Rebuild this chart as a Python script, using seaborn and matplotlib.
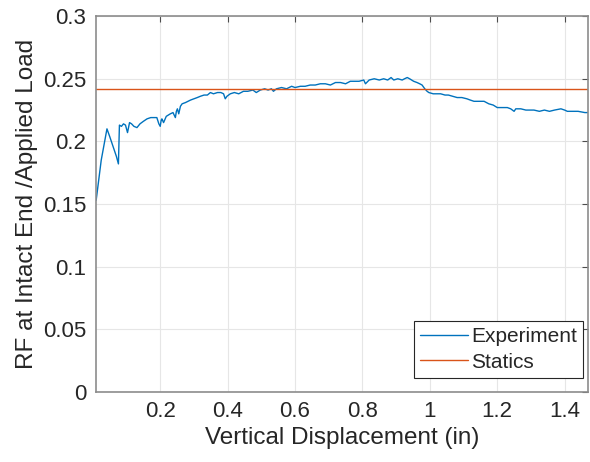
import pandas as pd
import seaborn as sns
import matplotlib
matplotlib.use("Agg")
import matplotlib.pyplot as plt

# data
displacement = [0.010, 0.025, 0.042, 0.050, 0.060, 0.070, 0.076, 0.079, 0.085, 0.091,
                0.097, 0.103, 0.109, 0.115, 0.122, 0.131, 0.140, 0.150, 0.161, 0.172,
                0.182, 0.190, 0.196, 0.200, 0.203, 0.205, 0.210, 0.218, 0.230, 0.238,
                0.245, 0.248, 0.251, 0.255, 0.260, 0.265, 0.275, 0.290, 0.300, 0.310,
                0.319, 0.330, 0.340, 0.349, 0.358, 0.370, 0.380, 0.388, 0.393, 0.398,
                0.408, 0.420, 0.433, 0.447, 0.460, 0.475, 0.485, 0.497, 0.510, 0.520,
                0.530, 0.536, 0.545, 0.560, 0.575, 0.590, 0.600, 0.616, 0.630, 0.645,
                0.660, 0.675, 0.690, 0.705, 0.720, 0.735, 0.750, 0.764, 0.775, 0.790,
                0.804, 0.809, 0.820, 0.835, 0.850, 0.863, 0.875, 0.885, 0.893, 0.905,
                0.918, 0.925, 0.933, 0.940, 0.952, 0.962, 0.970, 0.977, 0.985, 0.992,
                0.997, 1.010, 1.020, 1.032, 1.045, 1.055, 1.068, 1.081, 1.095, 1.110,
                1.120, 1.131, 1.145, 1.161, 1.175, 1.188, 1.200, 1.215, 1.230, 1.240,
                1.250, 1.255, 1.270, 1.285, 1.300, 1.309, 1.325, 1.340, 1.355, 1.370,
                1.389, 1.400, 1.408, 1.420, 1.440, 1.460, 1.475]
rf_ratio = [0.153, 0.185, 0.210, 0.204, 0.196, 0.188, 0.182, 0.213, 0.212, 0.214,
            0.213, 0.207, 0.215, 0.214, 0.212, 0.211, 0.214, 0.216, 0.218, 0.219,
            0.219, 0.219, 0.214, 0.212, 0.217, 0.218, 0.215, 0.220, 0.222, 0.223,
            0.219, 0.224, 0.226, 0.222, 0.228, 0.230, 0.231, 0.233, 0.234, 0.235,
            0.236, 0.237, 0.237, 0.239, 0.238, 0.239, 0.239, 0.238, 0.234, 0.236,
            0.238, 0.239, 0.238, 0.240, 0.240, 0.241, 0.239, 0.241, 0.242, 0.241,
            0.242, 0.240, 0.242, 0.243, 0.242, 0.244, 0.243, 0.244, 0.244, 0.245,
            0.245, 0.246, 0.246, 0.245, 0.247, 0.247, 0.246, 0.248, 0.248, 0.248,
            0.249, 0.246, 0.249, 0.250, 0.249, 0.250, 0.249, 0.251, 0.249, 0.250,
            0.249, 0.250, 0.251, 0.250, 0.248, 0.247, 0.246, 0.245, 0.242, 0.240,
            0.239, 0.238, 0.238, 0.238, 0.237, 0.237, 0.236, 0.235, 0.235, 0.234,
            0.233, 0.232, 0.232, 0.232, 0.230, 0.229, 0.227, 0.227, 0.227, 0.226,
            0.224, 0.226, 0.226, 0.225, 0.225, 0.225, 0.224, 0.225, 0.224, 0.225,
            0.226, 0.225, 0.224, 0.224, 0.224, 0.223, 0.223]
statics_value = 0.242

x_ticks = [0.2, 0.4, 0.6, 0.8, 1.0, 1.2, 1.4]
x_tick_labels = ['0.2', '0.4', '0.6', '0.8', '1', '1.2', '1.4']
y_ticks = [0, 0.05, 0.1, 0.15, 0.2, 0.25, 0.3]
y_tick_labels = ['0', '0.05', '0.1', '0.15', '0.2', '0.25', '0.3']

df = pd.DataFrame({'disp': displacement, 'rf': rf_ratio})

sns.set_style('whitegrid')
plt.rcParams['font.family'] = ['Liberation Sans', 'DejaVu Sans']

fig = plt.figure(figsize=(5.9, 4.62), dpi=100)
ax = fig.add_axes([0.163, 0.152, 0.834, 0.813])

sns.lineplot(data=df, x='disp', y='rf', sort=False, color='#0072BD',
             linewidth=1.0, label='Experiment', ax=ax)
ax.axhline(statics_value, color='#D95319', linewidth=1.0, label='Statics')

ax.set_xlim(0.01, 1.47)
ax.set_ylim(0, 0.3)
ax.set_xticks(x_ticks)
ax.set_xticklabels(x_tick_labels)
ax.set_yticks(y_ticks)
ax.set_yticklabels(y_tick_labels)
ax.tick_params(axis='both', direction='in', length=4, width=0.8, color='#4d4d4d',
               labelsize=16, labelcolor='#262626', top=True, right=True, pad=7)
ax.grid(True, color='#e6e6e6', linewidth=0.8)
for side in ax.spines.values():
    side.set_color('#8c8c8c')
    side.set_linewidth(1.2)

ax.set_xlabel('Vertical Displacement (in)', fontsize=17.5, color='#262626', labelpad=3)
ax.set_ylabel('RF at Intact End /Applied Load', fontsize=17.5, color='#262626', labelpad=4)

leg = ax.legend(loc='lower right', bbox_to_anchor=(0.99, 0.037), fontsize=15,
                frameon=True, fancybox=False, handlelength=2.3, borderaxespad=0,
                borderpad=0.3, labelspacing=0.3, handletextpad=0.15)
leg.get_frame().set_edgecolor('#262626')
leg.get_frame().set_linewidth(0.8)
leg.get_frame().set_alpha(1)

plt.savefig('out.png', dpi=100)
